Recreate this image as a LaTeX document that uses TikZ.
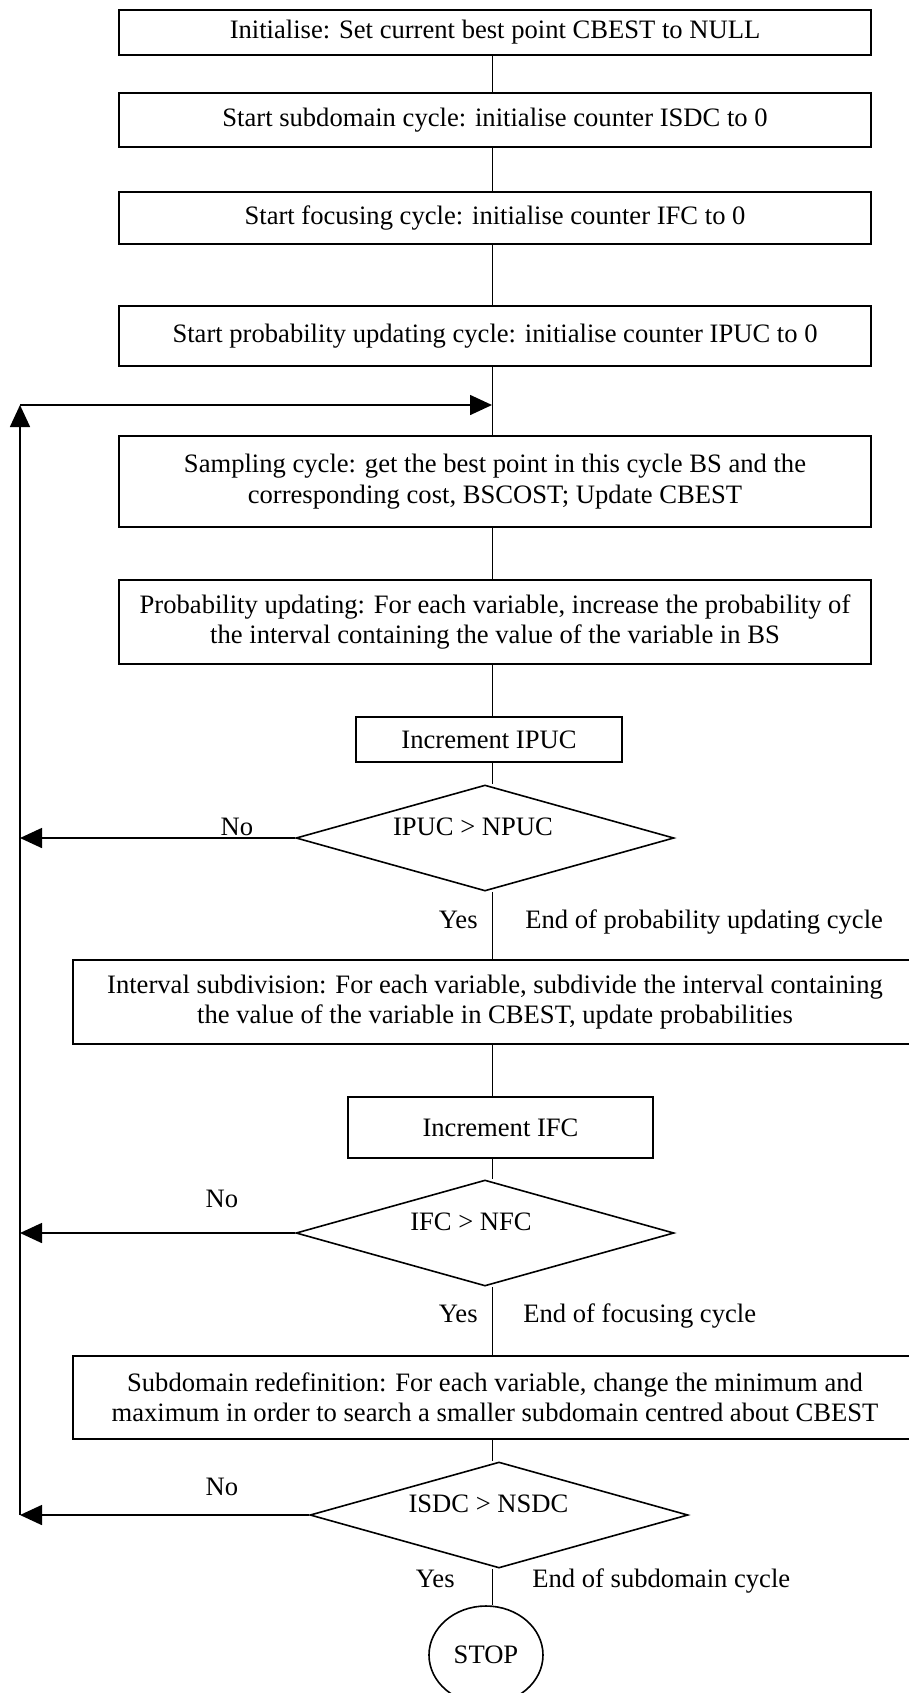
\documentclass[tikz,border=0pt]{standalone}
\usepackage{fontspec}
\setmainfont{Liberation Serif}
\usetikzlibrary{arrows.meta,positioning,calc,shapes.geometric}
\tikzset{
  stepbox/.style={draw, line width=0.8pt, align=center, minimum width=#1,
    inner sep=2pt, font=\fontsize{13.3}{15.2}\selectfont},
  stepbox/.default=376pt,
  testbox/.style={diamond, draw, line width=0.8pt, minimum width=189pt,
    minimum height=53pt, inner sep=0pt},
  testtext/.style={inner sep=0pt, font=\fontsize{13.3}{15.2}\selectfont},
  stopbox/.style={ellipse, draw, line width=0.8pt, minimum width=57pt,
    minimum height=49pt, inner sep=0pt, font=\fontsize{13.3}{15.2}\selectfont},
  flowlbl/.style={inner sep=0pt, font=\fontsize{13.3}{15.2}\selectfont},
  flowline/.style={line width=0.5pt},
  backarr/.style={-{Triangle[length=11pt, width=10pt]}, line width=0.8pt},
}

\begin{document}
\begin{tikzpicture}[x=0.5pt, y=-0.5pt]
  \useasboundingbox (0,0) rectangle (909,1693);
  \coordinate (spine) at (492,0);
  % set-up of the three cycles
  \node[stepbox, minimum height=22.5pt] (init) at (495,32.5) {Initialise: Set current best point CBEST to NULL};
  \node[stepbox, minimum height=27pt] (subdom) at (495,120) {Start subdomain cycle: initialise counter ISDC to 0};
  \node[stepbox, minimum height=26pt] (focus) at (495,218) {Start focusing cycle: initialise counter IFC to 0};
  \node[stepbox, minimum height=30pt] (probcyc) at (495,336) {Start probability updating cycle: initialise counter IPUC to 0};
  % probability updating cycle
  \node[stepbox, minimum height=45.5pt] (sampling) at (495,481.5) {Sampling cycle: get the best point in this cycle BS and the\\corresponding cost, BSCOST; Update CBEST};
  \node[stepbox, minimum height=42pt] (probupd) at (495,622) {Probability updating: For each variable, increase the probability of\\the interval containing the value of the variable in BS};
  \node[stepbox=133pt, minimum height=22.5pt] (incipuc) at (489,739.5) {Increment IPUC};
  \node[testbox, label={[testtext, xshift=-6pt, yshift=5.5pt]center:IPUC > NPUC}] (ipuctest) at (485,838) {};
  % focusing cycle
  \node[stepbox=422pt, minimum height=42pt] (intsub) at (495,1002) {Interval subdivision: For each variable, subdivide the interval containing\\the value of the variable in CBEST, update probabilities};
  \node[stepbox=152.5pt, minimum height=30.5pt] (incifc) at (500.5,1127.5) {Increment IFC};
  \node[testbox, label={[testtext, xshift=-7pt, yshift=5.75pt]center:IFC > NFC}] (ifctest) at (485,1233) {};
  % subdomain cycle
  \node[stepbox=422pt, minimum height=41.5pt] (subred) at (495,1397.5) {Subdomain redefinition: For each variable, change the minimum and\\maximum in order to search a smaller subdomain centred about CBEST};
  \node[testbox, label={[testtext, xshift=-5.25pt, yshift=5.75pt]center:ISDC > NSDC}] (isdctest) at (499,1515) {};
  \node[stopbox] (stop) at (486,1655) {STOP};

  \foreach \a/\b in {init/subdom, subdom/focus, focus/probcyc, probcyc/sampling,
      sampling/probupd, probupd/incipuc, incipuc/ipuctest, ipuctest/intsub,
      intsub/incifc, incifc/ifctest, ifctest/subred, subred/isdctest, isdctest/stop}
    \draw[flowline] (\a.south -| spine) -- (\b.north -| spine);

  % return path
  \coordinate (entry) at (492,405);
  \coordinate (looptop) at (20,405);
  \coordinate (loopbot) at (20,1515);
  \draw[backarr] (loopbot) -- (looptop);
  \draw[backarr] (looptop) -- (entry);
  \draw[backarr] (ipuctest.west) -- (ipuctest.west -| looptop);
  \draw[backarr] (ifctest.west) -- (ifctest.west -| looptop);
  \draw[backarr] (isdctest.west) -- (isdctest.west -| looptop);

  % branch labels
  \node[flowlbl, anchor=base] (no1) at (237,835) {No};
  \node[flowlbl, anchor=base east] (yes1) at (478,928) {Yes};
  \node[flowlbl, anchor=base west] (end1) at (525,928) {End of probability updating cycle};
  \node[flowlbl, anchor=base] (no2) at (222,1207) {No};
  \node[flowlbl, anchor=base east] (yes2) at (478,1322) {Yes};
  \node[flowlbl, anchor=base west] (end2) at (523,1322) {End of focusing cycle};
  \node[flowlbl, anchor=base] (no3) at (222,1495) {No};
  \node[flowlbl, anchor=base east] (yes3) at (455,1587) {Yes};
  \node[flowlbl, anchor=base west] (end3) at (532,1587) {End of subdomain cycle};
\end{tikzpicture}
\end{document}
